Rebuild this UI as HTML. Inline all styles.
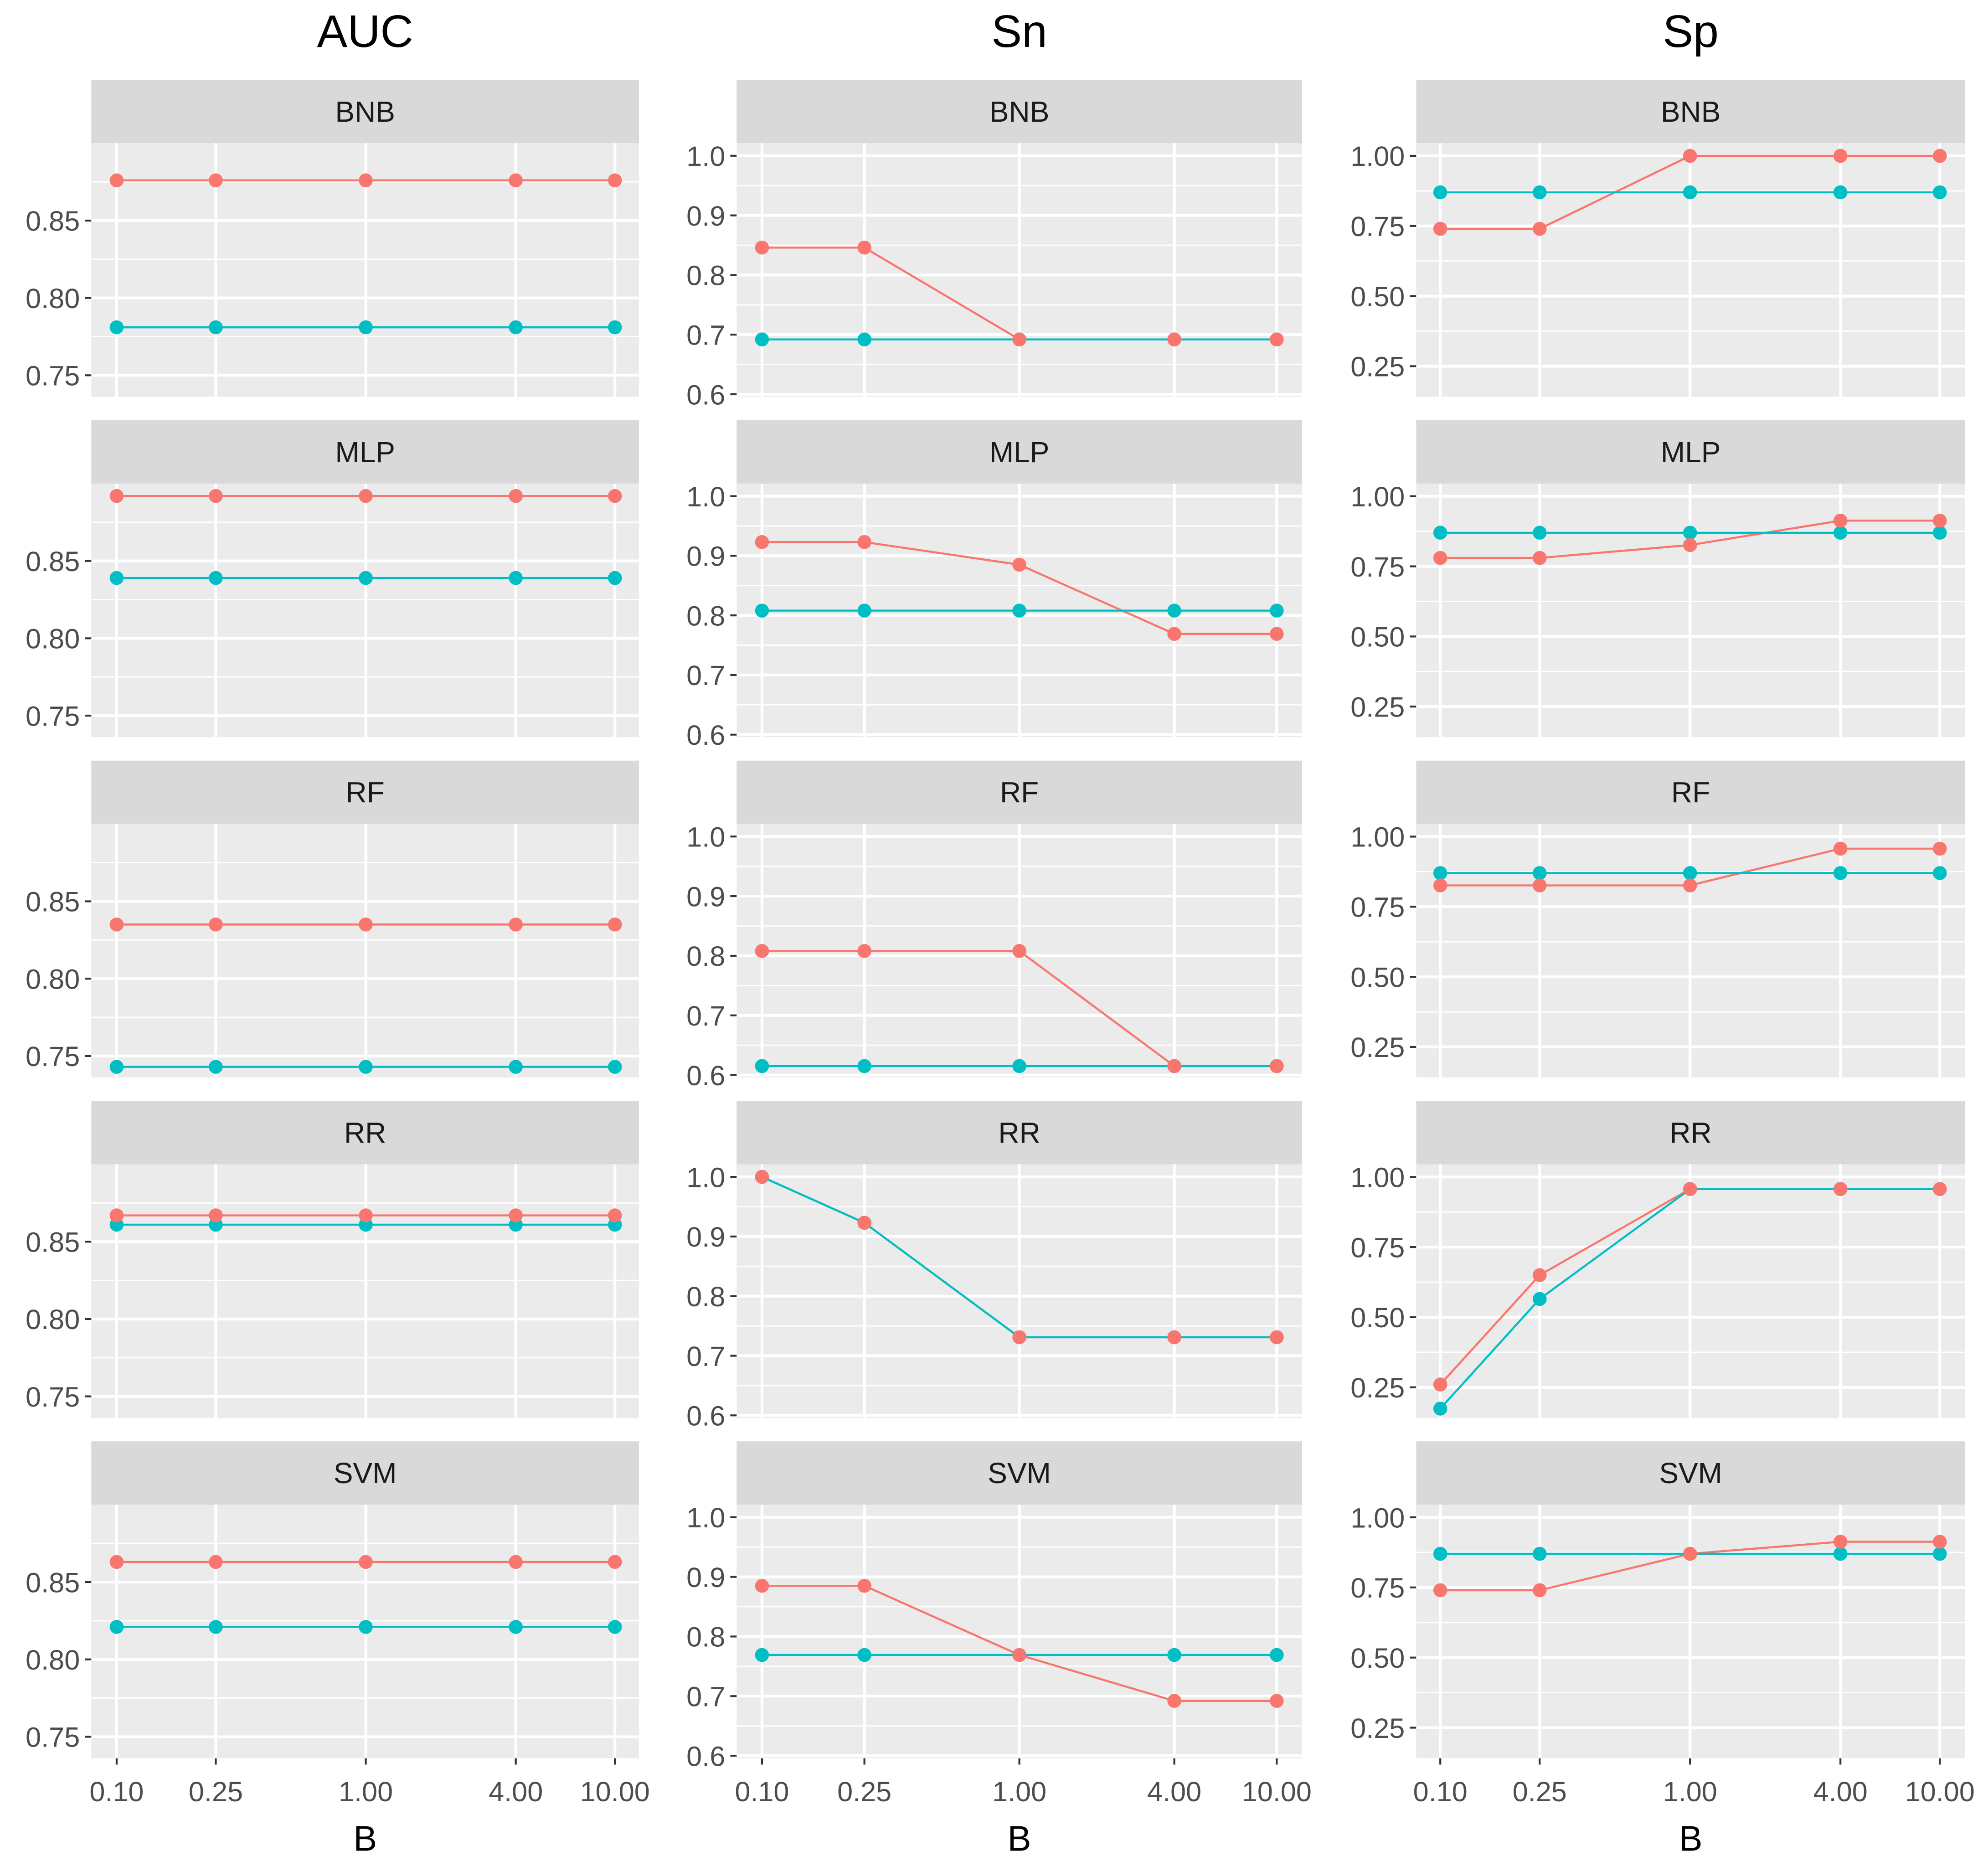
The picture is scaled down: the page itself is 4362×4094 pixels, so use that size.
<!DOCTYPE html>
<html><head><meta charset="utf-8"><style>
html,body{margin:0;padding:0;background:#fff;}
svg{display:block;}
text{font-family:"Liberation Sans",Arial,sans-serif;}
</style></head><body>
<svg id="chart" width="4362" height="4094" viewBox="0 0 1568 1472" preserveAspectRatio="none" xmlns="http://www.w3.org/2000/svg"></svg>
<script>
const xValues = [0.1, 0.25, 1, 4, 10];
const xTickLabels = ["0.10", "0.25", "1.00", "4.00", "10.00"];
const models = ["BNB", "MLP", "RF", "RR", "SVM"];
const metrics = ["AUC", "Sn", "Sp"];
const aucRed = [0.876, 0.892, 0.835, 0.867, 0.863];
const aucTeal = [0.781, 0.839, 0.743, 0.861, 0.821];
const snRed = [
  [0.846, 0.846, 0.692, 0.692, 0.692],
  [0.923, 0.923, 0.885, 0.769, 0.769],
  [0.808, 0.808, 0.808, 0.615, 0.615],
  [1.0, 0.923, 0.731, 0.731, 0.731],
  [0.885, 0.885, 0.769, 0.692, 0.692]
];
const snTeal = [
  [0.692, 0.692, 0.692, 0.692, 0.692],
  [0.808, 0.808, 0.808, 0.808, 0.808],
  [0.615, 0.615, 0.615, 0.615, 0.615],
  [1.0, 0.923, 0.731, 0.731, 0.731],
  [0.769, 0.769, 0.769, 0.769, 0.769]
];
const spRed = [
  [0.74, 0.74, 1.0, 1.0, 1.0],
  [0.78, 0.78, 0.826, 0.913, 0.913],
  [0.826, 0.826, 0.826, 0.957, 0.957],
  [0.26, 0.65, 0.957, 0.957, 0.957],
  [0.74, 0.74, 0.87, 0.913, 0.913]
];
const spTeal = [
  [0.87, 0.87, 0.87, 0.87, 0.87],
  [0.87, 0.87, 0.87, 0.87, 0.87],
  [0.87, 0.87, 0.87, 0.87, 0.87],
  [0.174, 0.565, 0.957, 0.957, 0.957],
  [0.87, 0.87, 0.87, 0.87, 0.87]
];
const aucTicks = [0.75, 0.80, 0.85];
const aucTickLabels = ["0.75", "0.80", "0.85"];
const snTicks = [0.6, 0.7, 0.8, 0.9, 1.0];
const snTickLabels = ["0.6", "0.7", "0.8", "0.9", "1.0"];
const spTicks = [0.25, 0.5, 0.75, 1.0];
const spTickLabels = ["0.25", "0.50", "0.75", "1.00"];

const NS = "http://www.w3.org/2000/svg";
const svg = document.getElementById("chart");
function mk(tag, attrs, parent) {
  const e = document.createElementNS(NS, tag);
  for (const k in attrs) e.setAttribute(k, attrs[k]);
  (parent || svg).appendChild(e);
  return e;
}
const cols = [
  {x0: 72, x1: 504, xa: 92, xb: 485},
  {x0: 581, x1: 1027, xa: 601, xb: 1007},
  {x0: 1117, x1: 1550, xa: 1136, xb: 1530}
];
const yDom = [
  {top: 0.9, bot: 0.7361, ticks: aucTicks, labels: aucTickLabels, minor: [0.775, 0.825, 0.875]},
  {top: 1.021, bot: 0.5958, ticks: snTicks, labels: snTickLabels, minor: [0.65, 0.75, 0.85, 0.95]},
  {top: 1.045, bot: 0.141, ticks: spTicks, labels: spTickLabels, minor: [0.375, 0.625, 0.875]}
];
const rowTop = [113, 381.5, 650, 918.5, 1187];
const panelH = 200, stripH = 50;
const RED = "#F8766D", TEAL = "#00BFC4";

function xScale(c, v) {
  const C = cols[c];
  return C.xa + (Math.log10(v) + 1) / 2 * (C.xb - C.xa);
}
function yScale(m, r, v) {
  const D = yDom[m];
  return rowTop[r] + (D.top - v) / (D.top - D.bot) * panelH;
}
function seriesFor(m, r, red) {
  if (m === 0) { const v = red ? aucRed[r] : aucTeal[r]; return xValues.map(() => v); }
  if (m === 1) return red ? snRed[r] : snTeal[r];
  return red ? spRed[r] : spTeal[r];
}

metrics.forEach((name, c) => {
  const C = cols[c];
  const t = mk("text", {x: (C.x0 + C.x1) / 2, y: 37, "text-anchor": "middle", "font-size": 36, fill: "#000"});
  
  
  t.textContent = name;
  const b = mk("text", {x: (C.x0 + C.x1) / 2, y: 1460, "text-anchor": "middle", "font-size": 28, fill: "#000"});
  
  
  b.textContent = "B";

  models.forEach((mod, r) => {
    const g = mk("g", {});
    
    
    const top = rowTop[r];
    const strip = mk("rect", {x: C.x0, y: top - stripH, width: C.x1 - C.x0, height: stripH, fill: "#d9d9d9"}, g);
    
    
    const st = mk("text", {x: (C.x0 + C.x1) / 2, y: top - stripH / 2 + 8, "text-anchor": "middle", "font-size": 23, fill: "#1a1a1a"}, g);
    
    
    st.textContent = mod;
    const bg = mk("rect", {x: C.x0, y: top, width: C.x1 - C.x0, height: panelH, fill: "#ebebeb"}, g);
    
    
    const D = yDom[c];
    D.minor.forEach(v => {
      const y = yScale(c, r, v);
      if (y > top && y < top + panelH) mk("line", {x1: C.x0, x2: C.x1, y1: y, y2: y, stroke: "#fff", "stroke-width": 1}, g);
    });
    D.ticks.forEach((v, i) => {
      const y = yScale(c, r, v);
      const gl = mk("line", {x1: C.x0, x2: C.x1, y1: y, y2: y, stroke: "#fff", "stroke-width": 2.2}, g);
      
      
      mk("line", {x1: C.x0 - 5, x2: C.x0, y1: y, y2: y, stroke: "#333", "stroke-width": 1.5}, g);
      const tl = mk("text", {x: C.x0 - 9, y: y + 8, "text-anchor": "end", "font-size": 22, fill: "#4d4d4d"}, g);
      
      
      tl.textContent = D.labels[i];
    });
    xValues.forEach((v, i) => {
      const x = xScale(c, v);
      const gl = mk("line", {x1: x, x2: x, y1: top, y2: top + panelH, stroke: "#fff", "stroke-width": 2.2}, g);
      
      
      if (r === 4) {
        mk("line", {x1: x, x2: x, y1: top + panelH, y2: top + panelH + 5, stroke: "#333", "stroke-width": 1.5}, g);
        const tl = mk("text", {x: x, y: top + panelH + 34, "text-anchor": "middle", "font-size": 22, fill: "#4d4d4d"}, g);
        
        
        tl.textContent = xTickLabels[i];
      }
    });
    [true, false].forEach(red => {
      const vals = seriesFor(c, r, red);
      const col = red ? RED : TEAL;
      const pts = vals.map((v, i) => xScale(c, xValues[i]) + "," + yScale(c, r, v)).join(" ");
      const line = mk("polyline", {points: pts, fill: "none", stroke: col, "stroke-width": 1.6}, g);
      
      
    });
    [false, true].forEach(red => {
      const vals = seriesFor(c, r, red);
      const col = red ? RED : TEAL;
      vals.forEach((v, i) => {
        const p = mk("circle", {cx: xScale(c, xValues[i]), cy: yScale(c, r, v), r: 5.5, fill: col}, g);
        
        
      });
    });
  });
});
</script>
</body></html>
